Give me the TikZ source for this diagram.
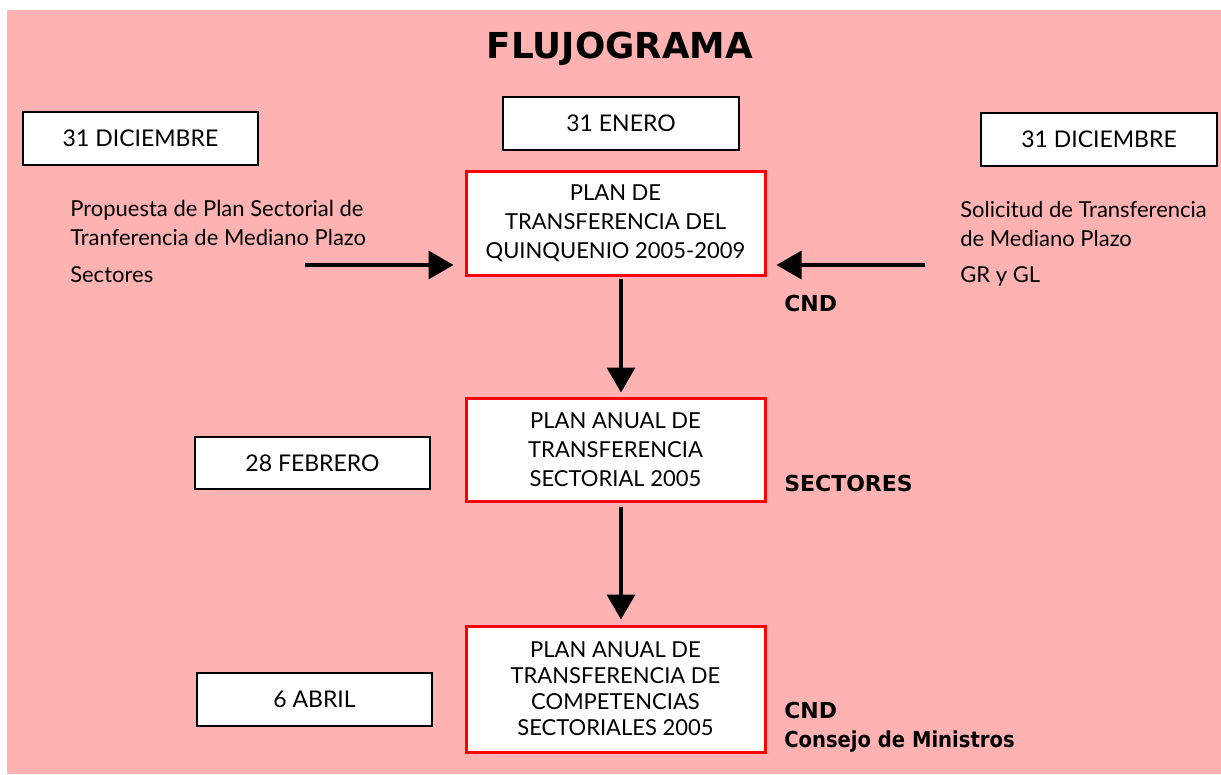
\documentclass[tikz,border=0pt]{standalone}
\usepackage{fontspec}
\setmainfont{Lato}
\newfontfamily\heavyfont{DejaVu Sans}
\newfontfamily\narrowheavy{DejaVu Sans}[FakeStretch=0.89]
\usetikzlibrary{arrows.meta,positioning}
\definecolor{fondo}{RGB}{255,178,178}
\definecolor{rojo}{RGB}{255,0,0}

\begin{document}
\begin{tikzpicture}
[x=1pt, y=-1pt, line width=2.5pt,
datebox/.style={rectangle, draw=black, fill=white, inner sep=0pt, minimum width=235pt, minimum height=53pt, font=\fontsize{23}{28}\selectfont},
planbox/.style={rectangle, draw=rojo, line width=3pt, fill=white, inner sep=0pt, minimum width=299pt, align=center, font=\fontsize{22}{29}\selectfont},
sidetext/.style={anchor=base west, inner sep=0pt, font=\fontsize{22}{29}\selectfont},
boldlabel/.style={anchor=base west, inner sep=0pt, font=\heavyfont\bfseries\fontsize{22}{29}\selectfont},
flow/.style={line width=3.5pt, -{Triangle[length=25pt,width=28pt]}}]

\useasboundingbox (0,0) rectangle (1221,774);
\fill[fondo] (7,10) rectangle (1221,774);

\node[anchor=base, inner sep=0pt, font=\heavyfont\bfseries\fontsize{35.7}{40}\selectfont] (titulo) at (620,58) {FLUJOGRAMA};

% fechas
\node[datebox] (dicizq) at (140.5,138.5) {31 DICIEMBRE};
\node[datebox, minimum width=236pt] (enero) at (621,123.5) {31 ENERO};
\node[datebox, minimum width=236pt] (dicder) at (1099,139.5) {31 DICIEMBRE};
\node[datebox, minimum height=52pt] (febrero) at (312.5,463) {28 FEBRERO};
\node[datebox] (abril) at (314.5,699.5) {6 ABRIL};

% planes
\node[planbox, minimum height=104pt] (quinq) at (615.5,223) {PLAN DE\\TRANSFERENCIA DEL\\QUINQUENIO 2005-2009};
\node[planbox, minimum height=103pt] (anual) at (615.5,449.5) {PLAN ANUAL DE\\TRANSFERENCIA\\SECTORIAL 2005};
\node[planbox, minimum height=126pt, font=\fontsize{22}{26}\selectfont] (compet) at (615.5,689) {PLAN ANUAL DE\\TRANSFERENCIA DE\\COMPETENCIAS\\SECTORIALES 2005};

% textos laterales
\node[sidetext] (propuesta) at (69,216) {Propuesta de Plan Sectorial de};
\node[sidetext] (tranf) at (69,245) {Tranferencia de Mediano Plazo};
\node[sidetext] (sectores) at (69,282) {Sectores};
\node[sidetext] (solicitud) at (959,217) {Solicitud de Transferencia};
\node[sidetext] (mediano) at (959,246) {de Mediano Plazo};
\node[sidetext] (gryl) at (959,282) {GR y GL};

\node[boldlabel] (cndarriba) at (783,311) {CND};
\node[boldlabel] (sectorlbl) at (783,491) {SECTORES};
\node[boldlabel] (cndabajo) at (783,718) {CND};
\node[boldlabel, font=\narrowheavy\bfseries\fontsize{22}{29}\selectfont] (consejo) at (783,747) {Consejo de Ministros};

% flechas
\coordinate (tailizq) at (305,265);
\coordinate (tailder) at (925,265);
\draw[flow, shorten >=11pt] (tailizq) -- (tailizq -| quinq.west);
\draw[flow, shorten >=10pt] (tailder) -- (tailder -| quinq.east);
\draw[flow, shorten <=2pt, shorten >=4pt] ([xshift=5.5pt]quinq.south) -- ([xshift=5.5pt]anual.north);
\draw[flow, shorten <=4pt, shorten >=5pt] ([xshift=5.5pt]anual.south) -- ([xshift=5.5pt]compet.north);
\end{tikzpicture}
\end{document}
